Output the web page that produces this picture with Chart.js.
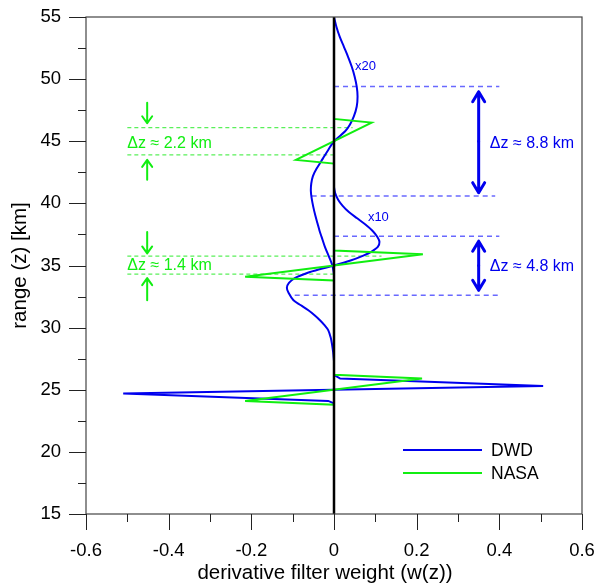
<!DOCTYPE html>
<html>
<head>
<meta charset="utf-8">
<script src="https://cdn.jsdelivr.net/npm/chart.js@4/dist/chart.umd.min.js"></script>
<style>
  html, body { margin: 0; padding: 0; background: #fff; }
</style>
</head>
<body>
<canvas id="weight-chart" width="599" height="583"></canvas>
<script>
'use strict';

// ******GLOBALS******
const FONT = '"Liberation Sans", Arial, sans-serif';
const BLUE = '#0000ee';
const GREEN = '#11ee11';
const DASH_BLUE = 'rgb(105,105,255)';
const DASH_GREEN = 'rgb(90,240,90)';

// DWD weights above ~34 km (shown x20)
let dwdTopZ = [55.0, 54.2, 53.4, 52.6, 51.8, 51.0, 50.2, 49.4, 48.6, 47.8, 47.0, 46.3, 45.8, 45.0,
  44.3, 43.6, 42.8, 42.2, 41.6, 41.0, 40.4, 39.7, 39.0, 38.4, 37.8, 37.3, 36.5, 35.7, 35.0, 34.3];
let dwdTopW = [0.000, 0.006, 0.014, 0.024, 0.034, 0.043, 0.050, 0.055, 0.057, 0.055, 0.048, 0.038, 0.027, 0.000,
  -0.014, -0.027, -0.042, -0.051, -0.055, -0.056, -0.054, -0.050, -0.045, -0.040, -0.035, -0.030, -0.022, -0.012, -0.004, 0.000];

// DWD weights 27-41 km (shown x10)
let dwdMidZ = [41.3, 40.8, 40.3, 39.8, 39.3, 38.8, 38.3, 37.8, 37.3, 36.9, 36.5, 36.1, 35.8, 35.4, 35.0,
  34.7, 34.4, 34.0, 33.6, 33.2, 32.8, 32.2, 31.8, 31.4, 31.0, 30.6, 30.2, 29.8, 29.2, 28.7, 28.0, 27.3];
let dwdMidW = [0.000, 0.003, 0.010, 0.021, 0.036, 0.056, 0.076, 0.093, 0.105, 0.110, 0.106, 0.090, 0.071, 0.040, 0.000,
  -0.035, -0.065, -0.094, -0.109, -0.114, -0.110, -0.098, -0.080, -0.062, -0.047, -0.034, -0.023, -0.014, -0.008, -0.005, -0.002, 0.000];

// DWD weights near 25 km (unscaled)
let dwdLowZ = [27.3, 26.2, 25.9, 25.3, 24.7, 24.1, 23.9, 15.0];
let dwdLowW = [0.000, 0.000, 0.015, 0.506, -0.510, -0.014, 0.000, 0.000];

// NASA weights
let nasaZ = [55.0, 46.8, 46.5, 43.5, 43.2, 36.2, 35.9, 34.1, 33.8, 26.2, 25.9, 24.1, 23.8, 15.0];
let nasaW = [0, 0, 0.091, -0.092, 0, 0, 0.215, -0.215, 0, 0, 0.213, -0.215, 0, 0];

let xTicks = [-0.6, -0.4, -0.2, 0, 0.2, 0.4, 0.6];
let yTicks = [15, 20, 25, 30, 35, 40, 45, 50, 55];

// layer spacing marks (dashed lines)
let blueMarkZ = [49.4, 40.6, 37.36, 32.6];
let blueMarkFrom = [0, -0.054, 0, -0.095];
let blueMarkTo = [0.40, 0.39, 0.40, 0.40];
let greenMarkZ = [46.1, 43.9, 35.75, 34.3];
let greenMarkFrom = [-0.50, -0.50, -0.50, -0.50];
let greenMarkTo = [0.045, 0, 0.115, 0];

// ****** HELPER FUNCTIONS ******
function toPoints(zs, ws) {
  let pts = [];
  for (let i = 0; i < zs.length; i++) {
    pts.push({ x: ws[i], y: zs[i] });
  }
  return pts;
}

function curve(zs, ws, color, tension, order) {
  return {
    data: toPoints(zs, ws),
    borderColor: color,
    borderWidth: 2,
    showLine: true,
    pointRadius: 0,
    tension: tension,
    order: order
  };
}

function dashed(z, from, to, color, dash, width) {
  return {
    data: [{ x: from, y: z }, { x: to, y: z }],
    borderColor: color,
    borderWidth: width,
    borderDash: dash,
    showLine: true,
    pointRadius: 0,
    order: 9
  };
}

let datasets = [];
// zero line on top
datasets.push({
  data: [{ x: 0, y: 15 }, { x: 0, y: 55 }],
  borderColor: '#000', borderWidth: 2.5, showLine: true, pointRadius: 0, order: 0
});
datasets.push(curve(dwdTopZ, dwdTopW, BLUE, 0.3, 2));
datasets.push(curve(dwdMidZ, dwdMidW, BLUE, 0.3, 2));
datasets.push(curve(dwdLowZ, dwdLowW, BLUE, 0, 2));
datasets.push(curve(nasaZ, nasaW, GREEN, 0, 1));
for (let i = 0; i < blueMarkZ.length; i++) {
  datasets.push(dashed(blueMarkZ[i], blueMarkFrom[i], blueMarkTo[i], DASH_BLUE, [5, 4], 1.5));
}
for (let i = 0; i < greenMarkZ.length; i++) {
  datasets.push(dashed(greenMarkZ[i], greenMarkFrom[i], greenMarkTo[i], DASH_GREEN, [4, 3], 1.2));
}

// arrows: [x, zFrom, zTip]
let blueArrows = [[0.35, 45, 48.98], [0.35, 45, 40.86], [0.35, 35, 36.96], [0.35, 35, 33.0]];
let greenArrows = [[-0.452, 48.1, 46.45], [-0.452, 41.9, 43.5], [-0.452, 37.7, 35.97], [-0.452, 32.2, 33.98]];

// labels: [text, x, z, color, size]
let notes = [
  ['x20', 0.051, 51.0, BLUE, 13],
  ['x10', 0.082, 38.9, BLUE, 13],
  ['\u0394z \u2248 8.8 km', 0.377, 44.84, BLUE, 16],
  ['\u0394z \u2248 4.8 km', 0.377, 34.94, BLUE, 16],
  ['\u0394z \u2248 2.2 km', -0.50, 44.84, GREEN, 16],
  ['\u0394z \u2248 1.4 km', -0.50, 34.97, GREEN, 16]
];

function drawArrow(ctx, x, y0, y1, color, width, len, half) {
  let dir = y1 > y0 ? 1 : -1;
  ctx.save();
  ctx.strokeStyle = color;
  ctx.lineWidth = width;
  ctx.lineCap = 'round';
  ctx.lineJoin = 'round';
  ctx.beginPath();
  ctx.moveTo(x, y0);
  ctx.lineTo(x, y1);
  ctx.moveTo(x - half, y1 - dir * len);
  ctx.lineTo(x, y1);
  ctx.lineTo(x + half, y1 - dir * len);
  ctx.stroke();
  ctx.restore();
}

let decorations = {
  id: 'decorations',
  afterDraw(chart) {
    let ctx = chart.ctx;
    let xs = chart.scales.x;
    let ys = chart.scales.y;
    let area = chart.chartArea;

    // frame
    ctx.save();
    ctx.strokeStyle = '#444';
    ctx.lineWidth = 1.2;
    ctx.strokeRect(area.left, area.top, area.right - area.left, area.bottom - area.top);

    // tick marks, minor ones halfway between
    ctx.strokeStyle = '#222';
    ctx.lineWidth = 1;
    ctx.beginPath();
    for (let i = 0; i < xTicks.length; i++) {
      let px = Math.round(xs.getPixelForValue(xTicks[i])) + 0.5;
      ctx.moveTo(px, area.bottom);
      ctx.lineTo(px, area.bottom + 16);
      if (i < xTicks.length - 1) {
        let mx = Math.round(xs.getPixelForValue((xTicks[i] + xTicks[i + 1]) / 2)) + 0.5;
        ctx.moveTo(mx, area.bottom);
        ctx.lineTo(mx, area.bottom + 8);
      }
    }
    for (let i = 0; i < yTicks.length; i++) {
      let py = Math.round(ys.getPixelForValue(yTicks[i])) + 0.5;
      ctx.moveTo(area.left, py);
      ctx.lineTo(area.left - 17, py);
      if (i < yTicks.length - 1) {
        let my = Math.round(ys.getPixelForValue((yTicks[i] + yTicks[i + 1]) / 2)) + 0.5;
        ctx.moveTo(area.left, my);
        ctx.lineTo(area.left - 8, my);
      }
    }
    ctx.stroke();
    ctx.restore();

    blueArrows.forEach(a => drawArrow(ctx, xs.getPixelForValue(a[0]), ys.getPixelForValue(a[1]),
      ys.getPixelForValue(a[2]), BLUE, 3, 10, 6));
    greenArrows.forEach(a => drawArrow(ctx, xs.getPixelForValue(a[0]), ys.getPixelForValue(a[1]),
      ys.getPixelForValue(a[2]), GREEN, 2, 7, 5));

    ctx.save();
    ctx.textBaseline = 'middle';
    ctx.textAlign = 'left';
    notes.forEach(n => {
      ctx.font = n[4] + 'px ' + FONT;
      ctx.fillStyle = n[3];
      ctx.fillText(n[0], xs.getPixelForValue(n[1]), ys.getPixelForValue(n[2]));
    });

    // legend
    let items = [['DWD', BLUE, 450], ['NASA', GREEN, 473]];
    ctx.font = '17.5px ' + FONT;
    ctx.fillStyle = '#000';
    items.forEach(it => {
      ctx.strokeStyle = it[1];
      ctx.lineWidth = 2;
      ctx.beginPath();
      ctx.moveTo(403, it[2]);
      ctx.lineTo(482, it[2]);
      ctx.stroke();
      ctx.fillText(it[0], 491, it[2] + 1);
    });

    // x axis title, set a little left of the plot centre
    ctx.font = '20.5px ' + FONT;
    ctx.textAlign = 'center';
    ctx.fillText('derivative filter weight (w(z))', (area.left + area.right) / 2 - 9, 573);
    ctx.restore();
  }
};

function fmtTick(v) {
  if (Math.abs(v) < 1e-9) return '0';
  return Number.isInteger(v) ? String(v) : v.toFixed(1);
}

// keep the plot box fixed: no extra room for overhanging labels
function noPadding(s) {
  s.paddingTop = 0;
  s.paddingBottom = 0;
  s.paddingLeft = 0;
  s.paddingRight = 0;
}

new Chart(document.getElementById('weight-chart').getContext('2d'), {
  type: 'scatter',
  data: { datasets: datasets },
  options: {
    responsive: false,
    animation: false,
    events: [],
    layout: { padding: { top: 17, right: 17, left: 0, bottom: 0 } },
    plugins: { legend: { display: false }, tooltip: { enabled: false } },
    scales: {
      x: {
        type: 'linear',
        min: -0.6,
        max: 0.6,
        afterBuildTicks: s => { s.ticks = xTicks.map(v => ({ value: v })); },
        afterFit: s => { s.height = 69; noPadding(s); },
        grid: { display: false, drawTicks: false },
        border: { display: false },
        ticks: {
          callback: fmtTick,
          color: '#000',
          padding: 28,
          maxRotation: 0,
          autoSkip: false,
          font: { family: FONT, size: 18.5, lineHeight: 1 }
        },
        title: { display: false }
      },
      y: {
        type: 'linear',
        min: 15,
        max: 55,
        afterBuildTicks: s => { s.ticks = yTicks.map(v => ({ value: v })); },
        afterFit: s => { s.width = 86; noPadding(s); },
        grid: { display: false, drawTicks: false },
        border: { display: false },
        ticks: {
          callback: fmtTick,
          color: '#000',
          padding: 25,
          autoSkip: false,
          font: { family: FONT, size: 18.5, lineHeight: 1 }
        },
        title: {
          display: true,
          text: 'range (z) [km]',
          color: '#000',
          padding: { top: 10, bottom: 0 },
          font: { family: FONT, size: 20.5, lineHeight: 1 }
        }
      }
    }
  },
  plugins: [decorations]
});
</script>
</body>
</html>
